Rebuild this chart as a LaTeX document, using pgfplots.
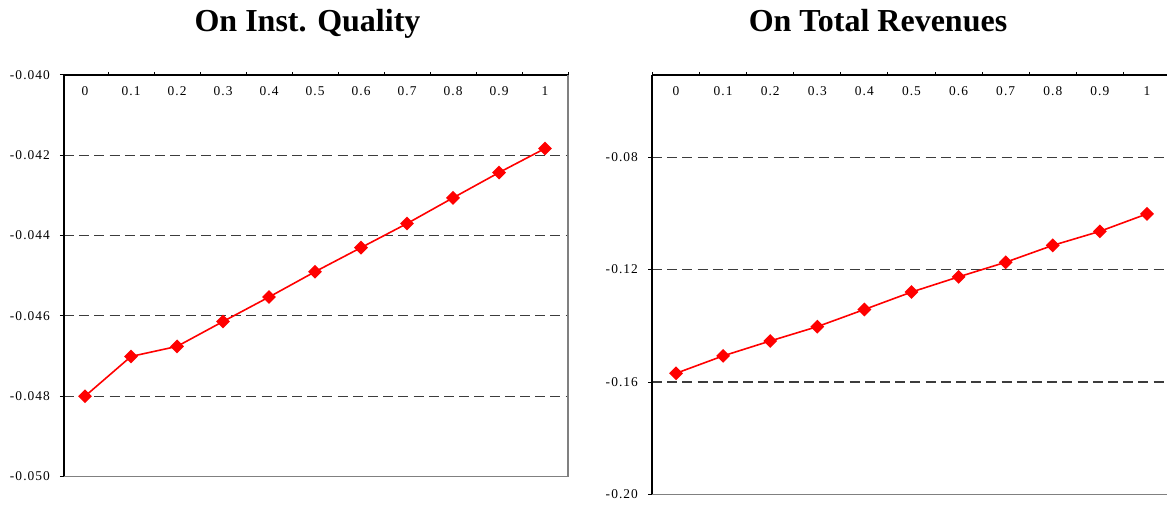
\documentclass[border=0pt]{standalone}
\usepackage{fontspec}
\setmainfont{Liberation Serif}
\newfontfamily\tickfont[LetterSpace=8]{Liberation Serif}
\usepackage{pgfplots}
\pgfplotsset{compat=1.18}
\definecolor{gridgray}{RGB}{60,60,60}
\definecolor{edgegray}{RGB}{128,128,128}

\pgfplotsset{
  panel/.style={
    scale only axis,
    axis x line*=top,
    axis y line*=left,
    axis line style={black, line width=0.6pt},
    tick align=outside,
    scaled y ticks=false,
    xtick={0,1,...,10},
    xticklabels={0,0.1,0.2,0.3,0.4,0.5,0.6,0.7,0.8,0.9,1},
    minor xtick={-0.5,0.5,...,10.5},
    major x tick style={draw=none},
    minor x tick style={black, line width=0.5pt},
    minor tick length=1.5pt,
    major tick length=2pt,
    y tick style={black, line width=0.5pt},
    xticklabel style={anchor=center, yshift=-10pt, font=\tickfont\fontsize{6.7}{8}\selectfont},
    yticklabel style={xshift=-1.5pt, font=\tickfont\fontsize{6.7}{8}\selectfont},
    ymajorgrids,
    major grid style={gridgray, line width=0.55pt, dash pattern=on 5pt off 2.6pt},
    clip=false,
  },
  redline/.style={red, line width=0.8pt, mark=square*, mark size=2.05pt,
    mark options={rotate=45, fill=red, draw=red, solid}},
}

\begin{document}
\begin{tikzpicture}
\useasboundingbox (0,0) rectangle (583.5pt,252pt);

\node[anchor=base, font=\bfseries\fontsize{16}{19}\selectfont] at (153.75pt,236pt) {On Inst. Quality};
\node[anchor=base, font=\bfseries\fontsize{16}{19}\selectfont] at (439pt,236pt) {On Total Revenues};

% left panel
\begin{axis}[panel,
  at={(32pt,13.75pt)}, anchor=south west,
  width=252pt, height=200.75pt,
  xmin=-0.457, xmax=10.5,
  ymin=-0.050, ymax=-0.040,
  ytick={-0.050,-0.048,-0.046,-0.044,-0.042,-0.040},
  yticklabels={-0.050,-0.048,-0.046,-0.044,-0.042,-0.040},
]
\draw[edgegray, line width=0.8pt] (rel axis cs:0,0) -- (rel axis cs:1,0) -- (rel axis cs:1,1);
\addplot[redline] coordinates {
  (0,-0.04800) (1,-0.04701) (2,-0.04676) (3,-0.04614) (4,-0.04553) (5,-0.04490)
  (6,-0.04430) (7,-0.04370) (8,-0.04306) (9,-0.04243) (10,-0.04183)
};
\end{axis}

% right panel
\begin{axis}[panel,
  at={(326pt,4.75pt)}, anchor=south west,
  width=259.25pt, height=209.75pt,
  xmin=-0.51, xmax=10.5,
  ymin=-0.20, ymax=-0.0508,
  ytick={-0.20,-0.16,-0.12,-0.08},
  yticklabels={-0.20,-0.16,-0.12,-0.08},
]
\draw[edgegray, line width=0.8pt] (rel axis cs:0,0) -- (rel axis cs:1,0) -- (rel axis cs:1,1);
\addplot[redline] coordinates {
  (0,-0.1569) (1,-0.1507) (2,-0.1454) (3,-0.1403) (4,-0.1342) (5,-0.1280)
  (6,-0.1226) (7,-0.1174) (8,-0.1114) (9,-0.1064) (10,-0.1002)
};
\end{axis}
\end{tikzpicture}
\end{document}
